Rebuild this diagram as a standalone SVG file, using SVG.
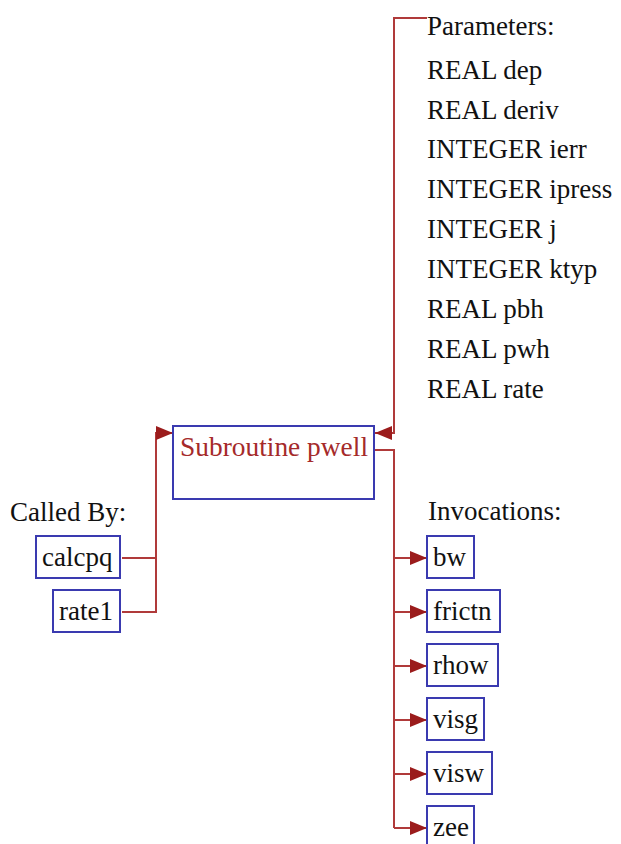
<svg xmlns="http://www.w3.org/2000/svg" width="621" height="844" viewBox="0 0 621 844">
<defs>
<marker id="ah" markerWidth="17" markerHeight="14" refX="17" refY="7" orient="auto" markerUnits="userSpaceOnUse">
<path d="M0,0 L17,7 L0,14 Z" fill="#9b1c1c"/>
</marker>
</defs>
<style>
.t{font-family:'Liberation Serif','Times New Roman','DejaVu Serif',serif;font-size:27px;fill:#111}
.box{fill:#fff;stroke:#3a3ab0;stroke-width:2}
.edge{fill:none;stroke:#b03a3a;stroke-width:2}
.main{fill:#a52a2a}
</style>
<rect width="621" height="844" fill="#fff"/>
<g id="connectors">
<path class="edge" d="M427,18 H394 V433 H375" marker-end="url(#ah)"/>
<path class="edge" d="M122,558 H156 V433 H173" marker-end="url(#ah)"/>
<path class="edge" d="M122,612 H156 V558"/>
<path class="edge" d="M375,450 H394 V828"/>
<path class="edge" d="M394,558 H427" marker-end="url(#ah)"/>
<path class="edge" d="M394,612 H427" marker-end="url(#ah)"/>
<path class="edge" d="M394,666 H427" marker-end="url(#ah)"/>
<path class="edge" d="M394,720 H427" marker-end="url(#ah)"/>
<path class="edge" d="M394,774 H427" marker-end="url(#ah)"/>
<path class="edge" d="M394,828 H427" marker-end="url(#ah)"/>
</g>
<g id="params" class="t" font-family="Liberation Serif, serif">
<text x="427" y="35">Parameters:</text>
<text x="427" y="79">REAL dep</text>
<text x="427" y="119">REAL deriv</text>
<text x="427" y="158">INTEGER ierr</text>
<text x="427" y="198">INTEGER ipress</text>
<text x="427" y="238">INTEGER j</text>
<text x="427" y="278">INTEGER ktyp</text>
<text x="427" y="318">REAL pbh</text>
<text x="427" y="358">REAL pwh</text>
<text x="427" y="398">REAL rate</text>
</g>
<g id="pwell">
<rect class="box" x="173" y="426" width="201" height="73"/>
<text class="t main" x="180" y="456" font-family="DejaVu Serif, serif" font-size="23" textLength="188" lengthAdjust="spacingAndGlyphs">Subroutine pwell</text>
</g>
<g id="calledby"><text class="t" x="10" y="521">Called By:</text></g>
<g id="calcpq">
<rect class="box" x="36" y="536" width="84" height="42"/>
<text class="t" x="42" y="566">calcpq</text>
</g>
<g id="rate1">
<rect class="box" x="53" y="590" width="67" height="42"/>
<text class="t" x="59" y="620">rate1</text>
</g>
<g id="invocations"><text class="t" x="428" y="520">Invocations:</text></g>
<g id="bw">
<rect class="box" x="427" y="536" width="47" height="42"/>
<text class="t" x="433" y="566">bw</text>
</g>
<g id="frictn">
<rect class="box" x="427" y="590" width="73" height="42"/>
<text class="t" x="433" y="620">frictn</text>
</g>
<g id="rhow">
<rect class="box" x="427" y="644" width="71" height="42"/>
<text class="t" x="433" y="674">rhow</text>
</g>
<g id="visg">
<rect class="box" x="427" y="698" width="57" height="42"/>
<text class="t" x="433" y="728">visg</text>
</g>
<g id="visw">
<rect class="box" x="427" y="752" width="65" height="42"/>
<text class="t" x="433" y="782">visw</text>
</g>
<g id="zee">
<rect class="box" x="427" y="806" width="47" height="42"/>
<text class="t" x="433" y="836">zee</text>
</g>
</svg>
